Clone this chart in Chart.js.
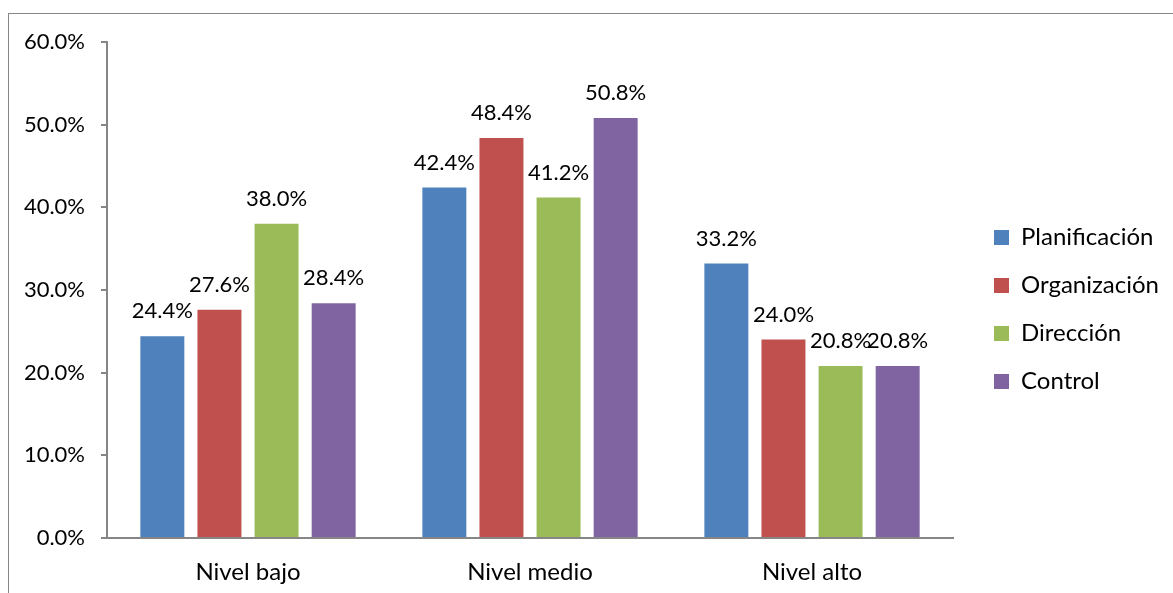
<!DOCTYPE html>
<html>
<head>
<meta charset="utf-8">
<script src="https://cdn.jsdelivr.net/npm/chart.js@4.4.1/dist/chart.umd.min.js"></script>
<style>
  html, body { margin: 0; padding: 0; background: #fff; overflow: hidden; }
  #frame { position: absolute; left: 8px; top: 13px; width: 1200px; height: 620px; border: 1.5px solid #868686; }
  #wrap { position: absolute; left: 0; top: 0; width: 1173px; height: 593px; }
</style>
</head>
<body>
<div id="frame"></div>
<div id="wrap"><canvas id="chart" width="1173" height="593"></canvas></div>
<script>
const categories = ['Nivel bajo', 'Nivel medio', 'Nivel alto'];
const planificacion = [24.4, 42.4, 33.2];
const organizacion = [27.6, 48.4, 24.0];
const direccion = [38.0, 41.2, 20.8];
const control = [28.4, 50.8, 20.8];

const FONT = 'Lato';

// value labels above each bar
const barLabels = {
    id: 'barLabels',
    afterDatasetsDraw(chart) {
        const ctx = chart.ctx;
        ctx.save();
        ctx.font = '22px ' + FONT;
        ctx.fillStyle = '#000';
        ctx.textAlign = 'center';
        ctx.textBaseline = 'bottom';
        chart.data.datasets.forEach((ds, i) => {
            chart.getDatasetMeta(i).data.forEach((bar, j) => {
                ctx.fillText(ds.data[j].toFixed(1) + '%', bar.x, bar.y - 14);
            });
        });
        ctx.restore();
    }
};

// nudge the legend block to where Excel puts it
const legendShift = {
    id: 'legendShift',
    afterLayout(chart) {
        const lg = chart.legend;
        lg.left += 17; lg.right += 17;
        lg.top -= 8; lg.bottom -= 8;
    }
};

const ctx = document.getElementById('chart').getContext('2d');
new Chart(ctx, {
    type: 'bar',
    data: {
        labels: categories,
        datasets: [
            { label: 'Planificación', data: planificacion, backgroundColor: '#4F81BD' },
            { label: 'Organización', data: organizacion, backgroundColor: '#C0504D' },
            { label: 'Dirección', data: direccion, backgroundColor: '#9BBB59' },
            { label: 'Control', data: control, backgroundColor: '#8064A2' }
        ]
    },
    plugins: [barLabels, legendShift],
    options: {
        responsive: false,
        animation: false,
        datasets: { bar: { categoryPercentage: 0.81, barPercentage: 0.77 } },
        layout: { padding: { top: 42, left: 0, right: 21, bottom: 0 } },
        plugins: {
            tooltip: { enabled: false },
            legend: {
                position: 'right',
                labels: {
                    font: { family: FONT, size: 24 },
                    color: '#000',
                    boxWidth: 15,
                    boxHeight: 15,
                    padding: 24
                }
            }
        },
        scales: {
            x: {
                grid: { display: false, drawTicks: false },
                border: { color: '#868686', width: 2 },
                ticks: { color: '#000', font: { family: FONT, size: 24 }, padding: 20 },
                afterFit(scale) { scale.height = 55; }
            },
            y: {
                min: 0,
                max: 60,
                ticks: {
                    stepSize: 10,
                    color: '#000',
                    font: { family: FONT, size: 22 },
                    padding: 16,
                    callback: v => v.toFixed(1) + '%'
                },
                grid: { drawOnChartArea: false, tickLength: 6, color: '#868686', lineWidth: 2 },
                border: { color: '#868686', width: 2 },
                afterFit(scale) { scale.width = 107; }
            }
        }
    }
});
</script>
</body>
</html>
